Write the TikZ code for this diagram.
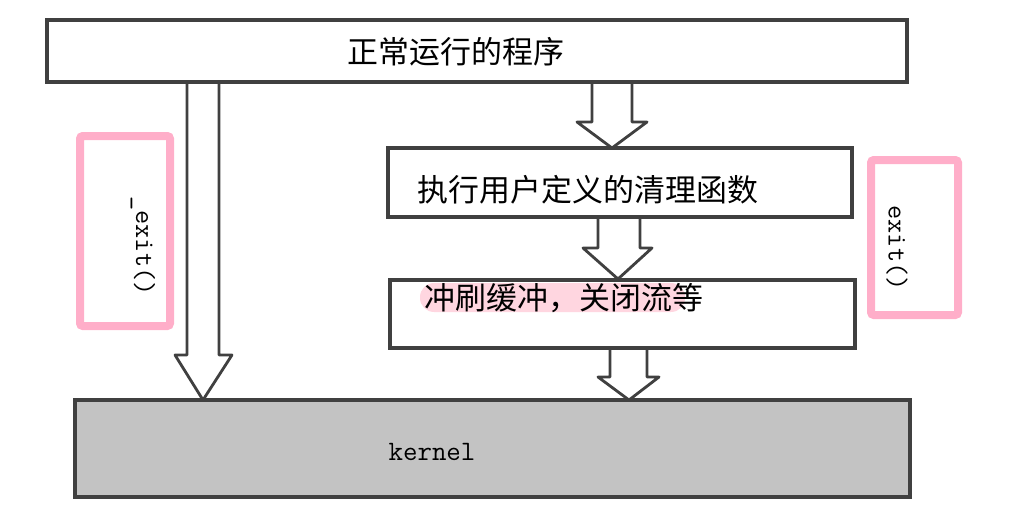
\documentclass[tikz,border=0pt]{standalone}
\usepackage{fontspec}
\newfontfamily\cjk{Noto Sans CJK SC}
\usepackage{xcolor}
\usepackage{tikz}
\usetikzlibrary{calc}
\definecolor{framepink}{HTML}{FFAEC9}
\definecolor{markpink}{HTML}{FFD6E0}
\definecolor{kernelgray}{HTML}{C3C3C3}
\definecolor{edgegray}{HTML}{404040}
\tikzset{
	procbox/.style={draw=edgegray, line width=2.5pt, fill=white},
	blockarrow/.style={draw=edgegray, line width=2pt, fill=white, line join=round},
	callframe/.style={draw=framepink, line width=0.2cm, rounded corners=2pt},
	cjklabel/.style={font=\cjk\fontsize{22}{26}\selectfont},
	calllabel/.style={font=\ttfamily\fontsize{19.5}{22}\selectfont, rotate=-90}
}

\begin{document}
\begin{tikzpicture}[x=0.025cm, y=-0.025cm]
        \useasboundingbox (0,0) rectangle (1011,513);
        \coordinate (main_nw) at (47, 20);
        \coordinate (main_se) at (907, 82);
        \coordinate (handler_nw) at (388, 148);
        \coordinate (handler_se) at (852, 217);
        \coordinate (flush_nw) at (390, 280);
        \coordinate (flush_se) at (855, 348);
        \coordinate (kernel_nw) at (75, 400);
        \coordinate (kernel_se) at (910, 497);
        % block arrows, open at the top
        \draw[blockarrow] (187, 82) -- (187, 355) -- (175, 355) -- (203, 400) -- (232, 355) -- (219, 355) -- (219, 82);
        \draw[blockarrow] (592, 82) -- (592, 122) -- (577, 122) -- (612, 148) -- (647, 122) -- (632, 122) -- (632, 82);
        \draw[blockarrow] (598, 217) -- (598, 248) -- (583, 248) -- (618, 279) -- (652, 248) -- (640, 248) -- (640, 217);
        \draw[blockarrow] (610, 348) -- (610, 377) -- (598, 377) -- (629, 400) -- (659, 377) -- (647, 377) -- (647, 348);
        % boxes
        \draw[procbox] (main_nw) rectangle (main_se);
        \draw[procbox] (handler_nw) rectangle (handler_se);
        \draw[procbox] (flush_nw) rectangle (flush_se);
        \draw[procbox, fill=kernelgray] (kernel_nw) rectangle (kernel_se);
        \fill[markpink, rounded corners=10pt] (420, 283) rectangle (685, 312);
        \node[cjklabel] (main_text) at (456, 52) {正常运行的程序};
        \node[cjklabel] (handler_text) at (588, 190) {执行用户定义的清理函数};
        \node[cjklabel] (flush_text) at (564, 298) {冲刷缓冲，关闭流等};
        \node[font=\ttfamily\fontsize{20}{22}\selectfont] (kernel_text) at (432, 452) {kernel};
        % the two exits
        \draw[callframe] (80, 136) rectangle (170, 326);
        \draw[callframe] (871, 160) rectangle (958, 315);
        \node[calllabel] (quick_exit) at (143, 246) {\_exit()};
        \node[calllabel] (normal_exit) at (897, 248) {exit()};
    \end{tikzpicture}
\end{document}
